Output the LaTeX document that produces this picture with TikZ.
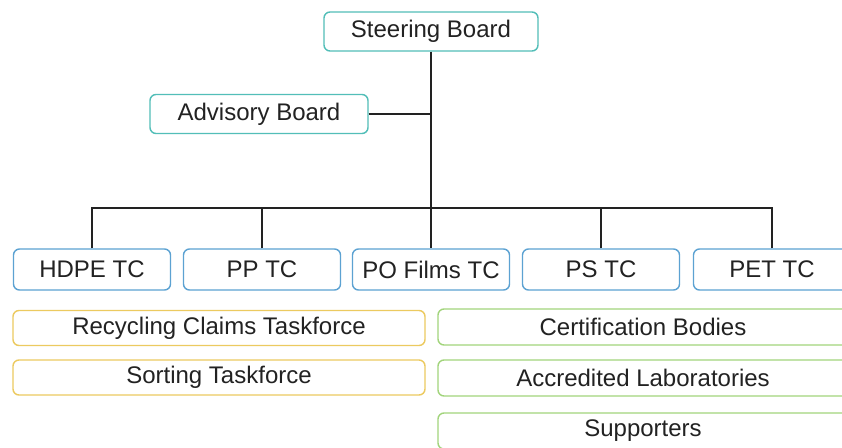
\documentclass[tikz,border=0pt]{standalone}
\usepackage{fontspec}
\setmainfont{Liberation Sans}
\definecolor{boardteal}{RGB}{82,190,184}
\definecolor{tcblue}{RGB}{92,162,210}
\definecolor{taskyellow}{RGB}{236,202,96}
\definecolor{membergreen}{RGB}{162,212,124}
\definecolor{inktext}{RGB}{34,34,34}
\tikzset{
	orgbox/.style={rectangle,rounded corners=6pt,line width=1.4pt,fill=white,inner sep=0pt,
		text=inktext,font=\fontsize{24}{27}\selectfont},
	board/.style={orgbox,draw=boardteal,minimum width=214pt,minimum height=39pt},
	tc/.style={orgbox,draw=tcblue,minimum width=157pt,minimum height=41pt},
	task/.style={orgbox,draw=taskyellow,minimum width=412pt,minimum height=35pt},
	member/.style={orgbox,draw=membergreen,minimum width=410pt,minimum height=36pt}
}
\begin{document}
\begin{tikzpicture}[x=1pt,y=-1pt]
			\clip (0,0) rectangle (842,447);
			\fill[white] (0,0) rectangle (842,447);

			\begin{scope}[every node/.style={board}]
				\node (SB) at (431,31.5) {Steering Board};
				\node[minimum width=218pt] (AB) at (259,114) {Advisory Board};
			\end{scope}

			\begin{scope}[every node/.style={tc}]
				\node (HDPE) at (92,269.5) {HDPE TC};
				\node (PP) at (262,269.5) {PP TC};
				\node (POF) at (431,269.5) {PO Films TC};
				\node (PS) at (601,269.5) {PS TC};
				\node (PET) at (772,269.5) {PET TC};
			\end{scope}

			\begin{scope}[every node/.style={task}]
				\node (RCT) at (219,328) {Recycling Claims Taskforce};
				\node (ST) at (219,377.5) {Sorting Taskforce};
			\end{scope}

			\begin{scope}[every node/.style={member}]
				\node (CB) at (643,327) {Certification Bodies};
				\node (AL) at (643,378) {Accredited Laboratories};
				\node (SUP) at (643,431) {Supporters};
			\end{scope}

			\coordinate (bus) at (431,208);
			\coordinate (join) at (431,114);

			\begin{scope}[every edge/.style={draw=inktext,line width=2pt}]
				\path (SB) edge (bus);
				\path (AB) edge (join);
				\path (bus) edge (POF);
				\path (HDPE.north) edge[to path={|- (\tikztotarget)}] (bus);
				\path (PET.north) edge[to path={|- (\tikztotarget)}] (bus);
				\path (PP.north) edge (PP.north |- bus);
				\path (PS.north) edge (PS.north |- bus);
			\end{scope}
		\end{tikzpicture}
\end{document}
